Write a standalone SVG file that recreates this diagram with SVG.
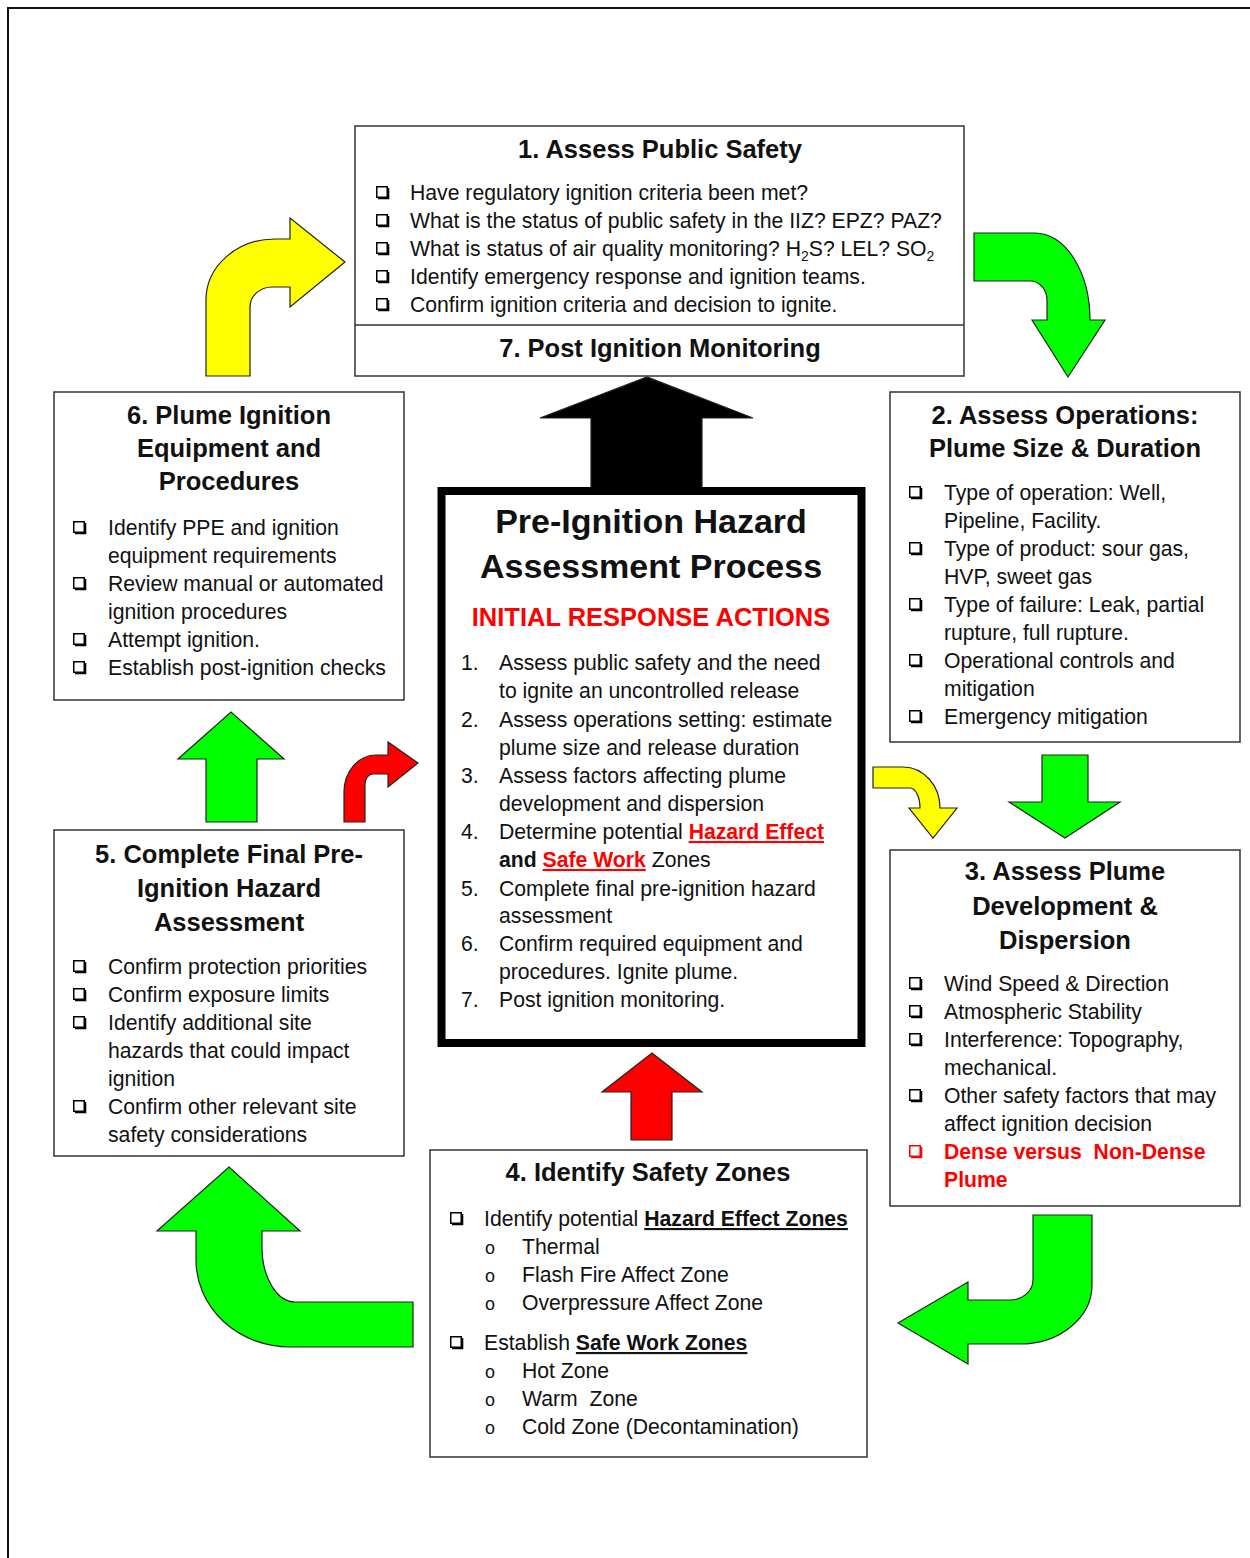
<svg xmlns="http://www.w3.org/2000/svg" xmlns:xlink="http://www.w3.org/1999/xlink" width="1250" height="1558" viewBox="0 0 1250 1558">
<style>
.box{fill:#fff;stroke:#333;stroke-width:1.5}
.t{font-family:"Liberation Sans",Arial,sans-serif;font-size:21.2px;fill:#111}
.h{font-family:"Liberation Sans",Arial,sans-serif;font-size:25.5px;font-weight:bold;fill:#111;text-anchor:middle}
.big{font-size:34px}
.b{font-weight:bold}
.u{text-decoration:underline}
.red{fill:#f00}
.o{font-family:"Liberation Sans",Arial,sans-serif;font-size:18px;fill:#111}
.arr{stroke:#222;stroke-width:1.2;stroke-linejoin:miter}
.y{fill:#ffff00}
.g{fill:#00ff00}
.r{fill:#ff0000}
.k{fill:#000}
</style>
<defs>
<g id="cb"><rect x="0.75" y="0.75" width="10.5" height="10.5" fill="none" stroke="#000" stroke-width="1.5"/><path d="M2,12.3 H12.3 V2" fill="none" stroke="#000" stroke-width="2"/></g>
<g id="cbr"><rect x="0.75" y="0.75" width="10.5" height="10.5" fill="none" stroke="#f00" stroke-width="1.5"/><path d="M2,12.3 H12.3 V2" fill="none" stroke="#f00" stroke-width="2"/></g>
</defs>
<rect width="1250" height="1558" fill="#fff"/>
<g id="frame" fill="none" stroke="#111" stroke-width="2">
<path d="M8,1558 V8 H1250"/>
</g>

<g id="connectors">
<path class="arr y" d="M206,376 L206,300 A69,61 0 0 1 275,239 L290,239 L290,218 L345,262 L290,307 L290,287 L272,287 A22,20 0 0 0 250,307 L250,376 Z"/>
<path class="arr g" d="M974,233 L1035,233 A55,87 0 0 1 1090,320 L1105,320 L1068,377 L1032,320 L1047,320 L1047,300 A17,19 0 0 0 1030,281 L974,281 Z"/>
<path class="arr k" d="M591,489 L591,418 L540,418 L647,377 L753,418 L702,418 L702,489 Z"/>
<path class="arr y" d="M873,767 L903,767 A37,41 0 0 1 940,808 L957,808 L933,838 L909,808 L920,808 A10,20 0 0 0 910,788 L873,788 Z"/>
<path class="arr g" d="M1042,755 L1088,755 L1088,802 L1120,802 L1065,838 L1009,802 L1042,802 Z"/>
<path class="arr g" d="M1033,1215 L1092,1215 L1092,1285 A72,59 0 0 1 1020,1344 L968,1344 L968,1364 L898,1323 L968,1282 L968,1300 L1010,1300 A23,20 0 0 0 1033,1280 Z"/>
<path class="arr r" d="M631,1140 L631,1092 L602,1092 L652,1053 L702,1092 L672,1092 L672,1140 Z"/>
<path class="arr g" d="M413,1302 L295,1302 A33,55 0 0 1 262,1247 L262,1231 L300,1231 L229,1167 L157,1231 L196,1231 L196,1260 A94,87 0 0 0 290,1347 L413,1347 Z"/>
<path class="arr g" d="M206,822 L206,759 L178,759 L231,712 L284,759 L257,759 L257,822 Z"/>
<path class="arr r" d="M344,822 L344,792 A32,37 0 0 1 376,755 L388,755 L388,742 L418,763 L388,787 L388,774 L373,774 A8,10 0 0 0 365,784 L365,822 Z"/>
</g>

<g id="node1">
<rect class="box" x="355" y="126" width="609" height="250"/>
<line x1="355" y1="325" x2="964" y2="325" stroke="#333" stroke-width="1.5"/>
<text class="h" x="660" y="158">1. Assess Public Safety</text>
<use href="#cb" x="376" y="186"/>
<use href="#cb" x="376" y="214"/>
<use href="#cb" x="376" y="242"/>
<use href="#cb" x="376" y="270"/>
<use href="#cb" x="376" y="298"/>
<text class="t" x="410" y="200">Have regulatory ignition criteria been met?</text>
<text class="t" x="410" y="228">What is the status of public safety in the IIZ? EPZ? PAZ?</text>
<text class="t" x="410" y="256">What is status of air quality monitoring? H<tspan font-size="14" dy="5">2</tspan><tspan dy="-5">S? LEL? SO</tspan><tspan font-size="14" dy="5">2</tspan></text>
<text class="t" x="410" y="284">Identify emergency response and ignition teams.</text>
<text class="t" x="410" y="312">Confirm ignition criteria and decision to ignite.</text>
</g>

<g id="node7">
<text class="h" x="660" y="357">7. Post Ignition Monitoring</text>
</g>

<g id="node2">
<rect class="box" x="890" y="392" width="350" height="350"/>
<text class="h" x="1065" y="424">2. Assess Operations:</text>
<text class="h" x="1065" y="457">Plume Size &amp; Duration</text>
<use href="#cb" x="909" y="486"/>
<use href="#cb" x="909" y="542"/>
<use href="#cb" x="909" y="598"/>
<use href="#cb" x="909" y="654"/>
<use href="#cb" x="909" y="710"/>
<text class="t" x="944" y="500">Type of operation: Well,</text>
<text class="t" x="944" y="528">Pipeline, Facility.</text>
<text class="t" x="944" y="556">Type of product: sour gas,</text>
<text class="t" x="944" y="584">HVP, sweet gas</text>
<text class="t" x="944" y="612">Type of failure: Leak, partial</text>
<text class="t" x="944" y="640">rupture, full rupture.</text>
<text class="t" x="944" y="668">Operational controls and</text>
<text class="t" x="944" y="696">mitigation</text>
<text class="t" x="944" y="724">Emergency mitigation</text>
</g>

<g id="node3">
<rect class="box" x="890" y="850" width="350" height="356"/>
<text class="h" x="1065" y="880">3. Assess Plume</text>
<text class="h" x="1065" y="915">Development &amp;</text>
<text class="h" x="1065" y="949">Dispersion</text>
<use href="#cb" x="909" y="977"/>
<use href="#cb" x="909" y="1005"/>
<use href="#cb" x="909" y="1033"/>
<use href="#cb" x="909" y="1089"/>
<use href="#cbr" x="909" y="1145"/>
<text class="t" x="944" y="991">Wind Speed &amp; Direction</text>
<text class="t" x="944" y="1019">Atmospheric Stability</text>
<text class="t" x="944" y="1047">Interference: Topography,</text>
<text class="t" x="944" y="1075">mechanical.</text>
<text class="t" x="944" y="1103">Other safety factors that may</text>
<text class="t" x="944" y="1131">affect ignition decision</text>
<text class="t b red" x="944" y="1159" xml:space="preserve">Dense versus  Non-Dense</text>
<text class="t b red" x="944" y="1187">Plume</text>
</g>

<g id="node4">
<rect class="box" x="430" y="1150" width="437" height="307"/>
<text class="h" x="648" y="1181">4. Identify Safety Zones</text>
<use href="#cb" x="450" y="1212"/>
<use href="#cb" x="450" y="1336"/>
<text class="t" x="484" y="1226">Identify potential <tspan class="b u">Hazard Effect Zones</tspan></text>
<text class="o" x="485" y="1254">o</text>
<text class="o" x="485" y="1282">o</text>
<text class="o" x="485" y="1310">o</text>
<text class="t" x="522" y="1254">Thermal</text>
<text class="t" x="522" y="1282">Flash Fire Affect Zone</text>
<text class="t" x="522" y="1310">Overpressure Affect Zone</text>
<text class="t" x="484" y="1350">Establish <tspan class="b u">Safe Work Zones</tspan></text>
<text class="o" x="485" y="1378">o</text>
<text class="o" x="485" y="1406">o</text>
<text class="o" x="485" y="1434">o</text>
<text class="t" x="522" y="1378">Hot Zone</text>
<text class="t" x="522" y="1406" xml:space="preserve">Warm  Zone</text>
<text class="t" x="522" y="1434">Cold Zone (Decontamination)</text>
</g>

<g id="node5">
<rect class="box" x="54" y="830" width="350" height="326"/>
<text class="h" x="229" y="863">5. Complete Final Pre-</text>
<text class="h" x="229" y="897">Ignition Hazard</text>
<text class="h" x="229" y="931">Assessment</text>
<use href="#cb" x="73" y="960"/>
<use href="#cb" x="73" y="988"/>
<use href="#cb" x="73" y="1016"/>
<use href="#cb" x="73" y="1100"/>
<text class="t" x="108" y="974">Confirm protection priorities</text>
<text class="t" x="108" y="1002">Confirm exposure limits</text>
<text class="t" x="108" y="1030">Identify additional site</text>
<text class="t" x="108" y="1058">hazards that could impact</text>
<text class="t" x="108" y="1086">ignition</text>
<text class="t" x="108" y="1114">Confirm other relevant site</text>
<text class="t" x="108" y="1142">safety considerations</text>
</g>

<g id="node6">
<rect class="box" x="54" y="392" width="350" height="308"/>
<text class="h" x="229" y="424">6. Plume Ignition</text>
<text class="h" x="229" y="457">Equipment and</text>
<text class="h" x="229" y="490">Procedures</text>
<use href="#cb" x="73" y="521"/>
<use href="#cb" x="73" y="577"/>
<use href="#cb" x="73" y="633"/>
<use href="#cb" x="73" y="661"/>
<text class="t" x="108" y="535">Identify PPE and ignition</text>
<text class="t" x="108" y="563">equipment requirements</text>
<text class="t" x="108" y="591">Review manual or automated</text>
<text class="t" x="108" y="619">ignition procedures</text>
<text class="t" x="108" y="647">Attempt ignition.</text>
<text class="t" x="108" y="675">Establish post-ignition checks</text>
</g>

<g id="center">
<rect x="441.5" y="491" width="420" height="552" fill="#fff" stroke="#000" stroke-width="8"/>
<text class="h big" x="651" y="533">Pre-Ignition Hazard</text>
<text class="h big" x="651" y="578">Assessment Process</text>
<text class="h red" x="651" y="626">INITIAL RESPONSE ACTIONS</text>
<text class="t" x="461" y="670">1.</text>
<text class="t" x="461" y="727">2.</text>
<text class="t" x="461" y="783">3.</text>
<text class="t" x="461" y="839">4.</text>
<text class="t" x="461" y="896">5.</text>
<text class="t" x="461" y="951">6.</text>
<text class="t" x="461" y="1007">7.</text>
<text class="t" x="499" y="670">Assess public safety and the need</text>
<text class="t" x="499" y="698">to ignite an uncontrolled release</text>
<text class="t" x="499" y="727">Assess operations setting: estimate</text>
<text class="t" x="499" y="755">plume size and release duration</text>
<text class="t" x="499" y="783">Assess factors affecting plume</text>
<text class="t" x="499" y="811">development and dispersion</text>
<text class="t" x="499" y="839">Determine potential <tspan class="b u red">Hazard Effect</tspan></text>
<text class="t" x="499" y="867"><tspan class="b">and </tspan><tspan class="b u red">Safe Work</tspan> Zones</text>
<text class="t" x="499" y="896">Complete final pre-ignition hazard</text>
<text class="t" x="499" y="923">assessment</text>
<text class="t" x="499" y="951">Confirm required equipment and</text>
<text class="t" x="499" y="979">procedures. Ignite plume.</text>
<text class="t" x="499" y="1007">Post ignition monitoring.</text>
</g>
</svg>
